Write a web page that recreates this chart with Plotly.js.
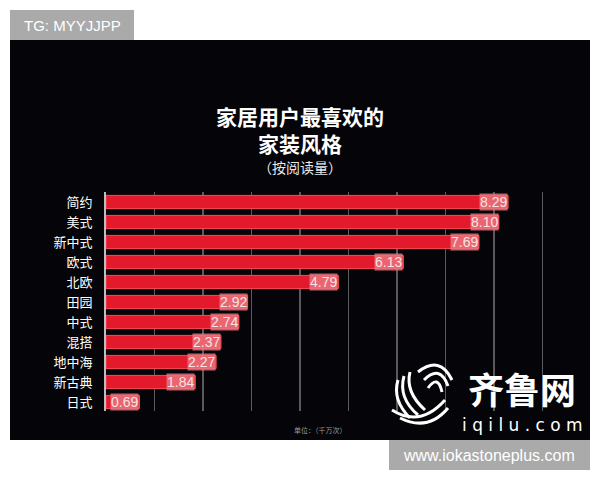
<!DOCTYPE html>
<html>
<head>
<meta charset="utf-8">
<script src="https://cdn.plot.ly/plotly-3.0.1.min.js"></script>
<style>html,body{margin:0;padding:0;background:#fff;}#chart{width:600px;height:480px;}</style>
</head>
<body>
<div id="chart"></div>
<script>
// ---- data ----
const categories = ["简约", "美式", "新中式", "欧式", "北欧", "田园", "中式", "混搭", "地中海", "新古典", "日式"];
const values = [8.29, 8.10, 7.69, 6.13, 4.79, 2.92, 2.74, 2.37, 2.27, 1.84, 0.69];
const titleLines = ["家居用户最喜欢的", "家装风格", "（按阅读量）"];
const unitNote = "单位：（千万次）";

// ---- layout helpers (pixel -> paper) ----
const L = 106, R = 590, T = 192, B = 411;
const W = R - L, H = B - T;
const px = x => (x - L) / W;
const py = y => (B - y) / H;
const CJK = '"Noto Sans CJK SC", "Noto Sans", sans-serif';

const trace = {
  type: 'bar',
  orientation: 'h',
  x: values,
  y: categories,
  width: 0.66,
  marker: { color: '#e3192c', line: { color: '#ff4a5a', width: 1 } },
  hoverinfo: 'skip'
};

const annotations = [];
values.forEach((v, i) => {
  annotations.push({
    xref: 'x', yref: 'y', x: v, y: categories[i],
    xanchor: 'right', yanchor: 'middle', showarrow: false,
    text: v.toFixed(2),
    font: { family: 'Liberation Sans, Arial, sans-serif', size: 14, color: '#f7e3e3' },
    bgcolor: 'rgba(235,120,130,0.8)', borderpad: 0
  });
});
annotations.push(
  { xref: 'paper', yref: 'paper', x: px(300), y: py(129), xanchor: 'center', yanchor: 'middle', showarrow: false,
    align: 'center',
    text: '<b>' + titleLines[0] + '<br>' + titleLines[1] + '</b>',
    font: { family: CJK, size: 21, color: '#ffffff' } },
  { xref: 'paper', yref: 'paper', x: px(300), y: py(167), xanchor: 'center', yanchor: 'middle', showarrow: false,
    text: titleLines[2], font: { family: CJK, size: 14, color: '#e8e8e8' } },
  { xref: 'paper', yref: 'paper', x: px(292), y: py(430), xanchor: 'left', yanchor: 'middle', showarrow: false,
    text: unitNote, font: { family: CJK, size: 7, color: '#9a9a9a' } },
  { xref: 'paper', yref: 'paper', x: px(522), y: py(388), xanchor: 'center', yanchor: 'middle', showarrow: false,
    text: '<b>齐鲁网</b>', font: { family: CJK, size: 36, color: '#ffffff' } },
  { xref: 'paper', yref: 'paper', x: px(522), y: py(425), xanchor: 'center', yanchor: 'middle', showarrow: false,
    text: 'i q i l u . c o m', font: { family: 'DejaVu Sans, sans-serif', size: 17, color: '#ffffff' } },
  { xref: 'paper', yref: 'paper', x: px(72), y: py(25), xanchor: 'center', yanchor: 'middle', showarrow: false,
    text: 'TG: MYYJJPP', font: { family: 'Liberation Sans, Arial, sans-serif', size: 15, color: '#ffffff' } },
  { xref: 'paper', yref: 'paper', x: px(489), y: py(455), xanchor: 'center', yanchor: 'middle', showarrow: false,
    text: 'www.iokastoneplus.com', font: { family: 'Liberation Sans, Arial, sans-serif', size: 16, color: '#ffffff' } }
);

// logo swirl (decorative strokes)
const swirl = [];
const logoStroke = (d) => swirl.push({ type: 'path', xref: 'paper', yref: 'paper', path: d, line: { color: '#ffffff', width: 3 }, layer: 'above' });
function P(x, y) { return px(x) + ',' + py(y); }
logoStroke('M' + P(398, 380) + ' Q' + P(392, 400) + ' ' + P(410, 418));
logoStroke('M' + P(404, 376) + ' Q' + P(398, 398) + ' ' + P(418, 415));
logoStroke('M' + P(410, 372) + ' Q' + P(405, 392) + ' ' + P(425, 410));
logoStroke('M' + P(392, 410) + ' Q' + P(420, 428) + ' ' + P(445, 400));
logoStroke('M' + P(400, 418) + ' Q' + P(428, 432) + ' ' + P(448, 408));
logoStroke('M' + P(418, 372) + ' Q' + P(440, 355) + ' ' + P(452, 380));
logoStroke('M' + P(424, 380) + ' Q' + P(440, 364) + ' ' + P(448, 386));
logoStroke('M' + P(428, 388) + ' Q' + P(438, 374) + ' ' + P(442, 392));

const shapes = [
  { type: 'rect', xref: 'paper', yref: 'paper', x0: px(10), x1: px(590), y0: py(440), y1: py(40),
    fillcolor: '#050408', line: { width: 0 }, layer: 'below' },
  { type: 'rect', xref: 'paper', yref: 'paper', x0: px(10), x1: px(134), y0: py(40), y1: py(10),
    fillcolor: '#aaaaaa', line: { width: 0 }, layer: 'above' },
  { type: 'rect', xref: 'paper', yref: 'paper', x0: px(389), x1: px(590), y0: py(470), y1: py(440),
    fillcolor: '#aaaaaa', line: { width: 0 }, layer: 'above' }
].concat(swirl);

const layout = {
  width: 600, height: 480,
  margin: { l: L, r: 600 - R, t: T, b: 480 - B, pad: 0 },
  paper_bgcolor: '#ffffff',
  plot_bgcolor: 'rgba(0,0,0,0)',
  showlegend: false,
  xaxis: {
    range: [0, W / 48.5], dtick: 1, tick0: 0,
    showgrid: true, gridcolor: '#5a5a5a', gridwidth: 1.5,
    zeroline: false, showticklabels: false, ticks: '', showline: false, fixedrange: true
  },
  yaxis: {
    range: [10.45, -0.5], type: 'category',
    showgrid: false, zeroline: false,
    showline: true, linecolor: '#bdbdbd', linewidth: 2,
    ticks: 'outside', ticklen: 9, tickcolor: 'rgba(0,0,0,0)',
    tickfont: { family: CJK, size: 13, color: '#ffffff' }, fixedrange: true
  },
  annotations: annotations,
  shapes: shapes
};

Plotly.newPlot('chart', [trace], layout, { displayModeBar: false, staticPlot: true });
</script>
</body>
</html>
